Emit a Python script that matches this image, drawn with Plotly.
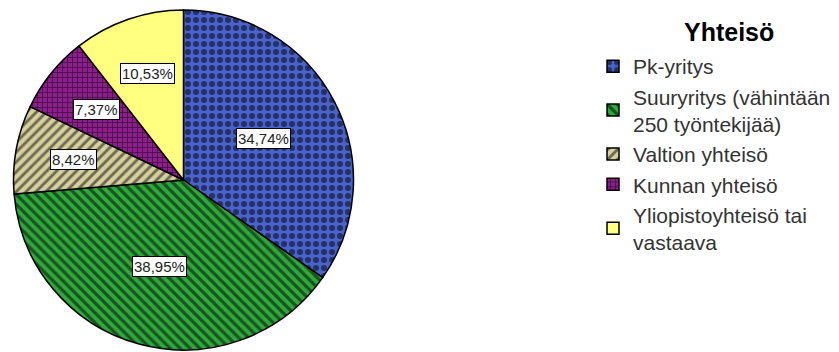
import math
import plotly.graph_objects as go

categories = ["Pk-yritys", "Suuryritys (vähintään<br>250 työntekijää)", "Valtion yhteisö",
              "Kunnan yhteisö", "Yliopistoyhteisö tai<br>vastaava"]
values = [34.74, 38.95, 8.42, 7.37, 10.53]
label_texts = ["34,74%", "38,95%", "8,42%", "7,37%", "10,53%"]
legend_title = "Yhteisö"

colors = ["#4a63cc", "#2fa83c", "#d6d09e", "#8c1f8c", "#ffff80"]
shapes = [".", "\\", "/", "+", ""]
solidity = [0.45, 0.45, 0.4, 0.3, 0]
sizes = [8, 7, 7, 5, 8]

W, H = 839, 352
cx_px, cy_px, R = 183.5, 172, 170  # centre (x from left, y from bottom), radius in px

fig = go.Figure(go.Pie(
    labels=categories,
    values=values,
    sort=False,
    direction="clockwise",
    rotation=0,
    textinfo="none",
    hoverinfo="label+percent",
    marker=dict(
        colors=colors,
        line=dict(color="black", width=1.5),
        pattern=dict(shape=shapes, fgcolor="black", bgcolor=colors,
                     solidity=solidity, size=sizes, fillmode="overlay"),
    ),
    domain=dict(x=[(cx_px - R) / W, (cx_px + R) / W], y=[(cy_px - R) / H, (cy_px + R) / H]),
))

total = sum(values)
cum = 0
annotations = []
for v, t in zip(values, label_texts):
    mid = (cum + v / 2) / total * 2 * math.pi
    cum += v
    f = 0.66 if v / total < 0.2 else 0.53
    x = (cx_px + f * R * math.sin(mid)) / W
    y = (cy_px + f * R * math.cos(mid)) / H
    annotations.append(dict(x=x, y=y, xref="paper", yref="paper", text=t, showarrow=False,
                            xanchor="center", yanchor="middle",
                            font=dict(family="Liberation Sans, Arial", size=15, color="#222"),
                            bgcolor="white", bordercolor="black", borderwidth=1, borderpad=1))

annotations.append(dict(x=729 / W, y=1 - 32 / H, xref="paper", yref="paper",
                        text="<b>" + legend_title + "</b>", showarrow=False,
                        xanchor="center", yanchor="middle",
                        font=dict(family="Liberation Sans, Arial", size=25, color="black")))

fig.update_layout(
    width=W, height=H,
    margin=dict(l=0, r=0, t=0, b=0),
    paper_bgcolor="white",
    annotations=annotations,
    showlegend=True,
    legend=dict(
        x=593 / W, y=1 - 46 / H, xanchor="left", yanchor="top",
        font=dict(family="Liberation Sans, Arial", size=21, color="#333"),
        itemwidth=30,
    ),
)

fig.write_html("out.html", post_script="document.body.style.margin='0';",
               config={"displayModeBar": False})
